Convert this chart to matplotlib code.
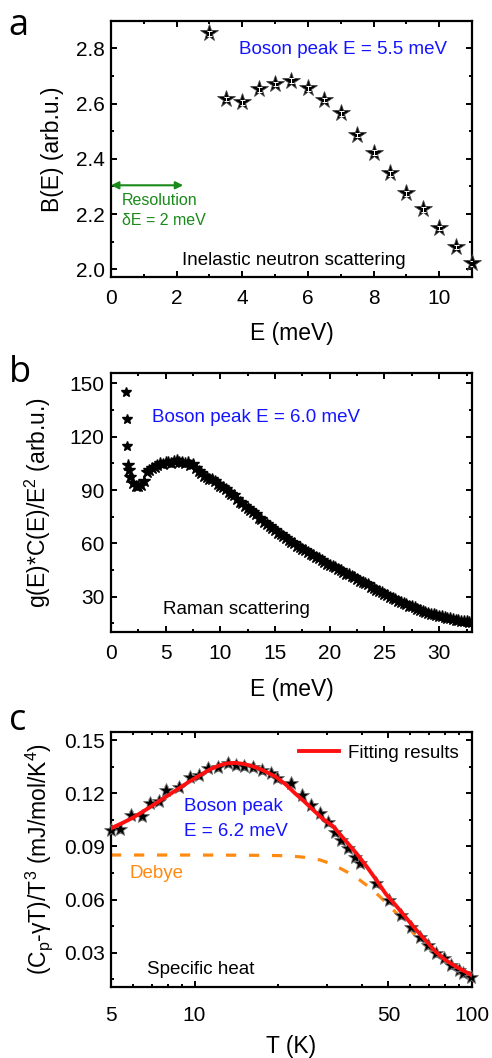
import numpy as np
import matplotlib
matplotlib.use("Agg")
import matplotlib.pyplot as plt
from matplotlib.ticker import MultipleLocator, FixedLocator, NullFormatter, FixedFormatter

plt.rcParams['font.family'] = ['Liberation Sans', 'DejaVu Sans']
plt.rcParams['mathtext.default'] = 'regular'

# =============================
# Data
# =============================
# a) inelastic neutron scattering
ins_E = [3.0, 3.5, 4.0, 4.5, 5.0, 5.5, 6.0, 6.5, 7.0, 7.5, 8.0, 8.5, 9.0, 9.5, 10.0, 10.5, 11.0]
ins_B = [2.854, 2.616, 2.604, 2.651, 2.671, 2.683, 2.655, 2.613, 2.564, 2.486,
         2.422, 2.347, 2.275, 2.217, 2.150, 2.081, 2.021]

# b) Raman scattering
raman_E = [1.34, 1.43, 1.49, 1.55, 1.62,
           1.75, 2.00, 2.25, 2.50, 2.75, 3.00, 3.25, 3.50, 3.75, 4.00, 4.25, 4.50,
           4.75, 5.00, 5.25, 5.50, 5.75, 6.00, 6.25, 6.50, 6.75, 7.00, 7.25, 7.50,
           7.75, 8.00, 8.25, 8.50, 8.75, 9.00, 9.25, 9.50, 9.75, 10.00, 10.25, 10.50,
           10.75, 11.00, 11.25, 11.50, 11.75, 12.00, 12.25, 12.50, 12.75, 13.00, 13.25,
           13.50, 13.75, 14.00, 14.25, 14.50, 14.75, 15.00, 15.25, 15.50, 15.75, 16.00,
           16.25, 16.50, 16.75, 17.00, 17.25, 17.50, 17.75, 18.00, 18.25, 18.50, 18.75,
           19.00, 19.25, 19.50, 19.75, 20.00, 20.25, 20.50, 20.75, 21.00, 21.25, 21.50,
           21.75, 22.00, 22.25, 22.50, 22.75, 23.00, 23.25, 23.50, 23.75, 24.00, 24.25,
           24.50, 24.75, 25.00, 25.25, 25.50, 25.75, 26.00, 26.25, 26.50, 26.75, 27.00,
           27.25, 27.50, 27.75, 28.00, 28.25, 28.50, 28.75, 29.00, 29.25, 29.50, 29.75,
           30.00, 30.25, 30.50, 30.75, 31.00, 31.25, 31.50, 31.75, 32.00, 32.25, 32.50,
           32.75, 33.00]
raman_I = [145, 130, 115, 104, 101,
           97.5, 94, 92.5, 92.5, 93, 95, 100, 101.5, 102.5, 103, 104, 105,
           104.5, 105.5, 106, 105, 106.5, 107, 106, 105.5, 105, 105.5, 104, 104.5,
           102.5, 100.5, 99.5, 98, 97.5, 96, 96, 95, 93.5, 92.5, 91.5, 90.5,
           89, 88, 87, 85, 83.5, 82.5, 81, 80, 79, 77.5, 76.5,
           74.5, 73.5, 72, 71, 70, 68.5, 67.5, 66, 65, 64, 63,
           62, 60.5, 60, 58.5, 58, 57, 56, 55, 54, 53.5, 52.5,
           51.5, 50.5, 49.5, 48.5, 48, 47, 46.5, 45.5, 45, 44, 43,
           42.5, 41.5, 41, 40, 39, 38.5, 37.5, 37, 35.5, 35, 34,
           33, 32.5, 31.5, 31, 30, 29.5, 28.5, 27.5, 27, 26.5, 26,
           25, 24.5, 24, 23, 22.5, 22, 21.5, 21, 20.5, 20, 19.5,
           19, 19, 18.5, 18, 18, 17.5, 17, 17, 16.5, 16.5, 16.5,
           16, 16]

# c) specific heat
cp_T = [5.0, 5.38, 5.9, 6.45, 6.9, 7.45, 7.9, 8.8, 9.6, 10.4, 11.2, 12.2, 13.2, 14.1,
        15.1, 16.3, 17.5, 18.9, 19.9, 22.3, 24.3, 26.4, 28.3, 30.3, 32.0, 33.8, 35.8,
        37.8, 39.6, 45.2, 50.2, 55.5, 60.1, 64.9, 69.3, 74.1, 79.0, 84.2, 89.8, 93.0, 99.0]
cp_val = [0.0992, 0.0996, 0.1077, 0.1071, 0.1143, 0.1156, 0.1218, 0.1233, 0.1290, 0.1300,
          0.1341, 0.1346, 0.1369, 0.1359, 0.1354, 0.1350, 0.1331, 0.1312, 0.1284, 0.1256,
          0.1190, 0.1133, 0.1086, 0.1039, 0.0983, 0.0936, 0.0889, 0.0842, 0.0805, 0.0692,
          0.0597, 0.0513, 0.0447, 0.0390, 0.0343, 0.0297, 0.0268, 0.0231, 0.0202, 0.0184,
          0.0165]

fit_T = [5, 5.5, 6, 6.5, 7, 7.5, 8, 8.6, 9.5, 10.5, 11.4, 12.2, 13.0, 14.0, 14.9, 16.0,
         17.5, 19.6, 21.3, 23.0, 25.0, 27.0, 29.0, 31.5, 34.0, 38.3, 42.0, 45.2, 49.0,
         53.6, 58.0, 63.0, 68.0, 74.0, 80.0, 87.6, 94.0, 100.0]
fit_val = [0.1002, 0.1032, 0.1062, 0.1095, 0.1127, 0.1158, 0.1186, 0.1218, 0.1262, 0.1303,
           0.1335, 0.1355, 0.1368, 0.1371, 0.1366, 0.1355, 0.1332, 0.1293, 0.1250, 0.1200,
           0.1150, 0.1100, 0.1055, 0.1015, 0.0955, 0.0861, 0.0780, 0.0710, 0.0630, 0.0560,
           0.0495, 0.0428, 0.0370, 0.0305, 0.0260, 0.0221, 0.0195, 0.0172]

debye_T = [5, 10, 15, 18, 20, 22.1, 25, 28.4, 31, 33.5, 36.5, 39.4, 43, 46.6, 50.5, 55,
           59, 63, 67.5, 72.2, 77.5, 83.2, 90, 98, 100]
debye_val = [0.0851, 0.0851, 0.0850, 0.0849, 0.0848, 0.0846, 0.0838, 0.0823, 0.0802,
             0.0776, 0.0745, 0.0710, 0.0665, 0.0616, 0.0562, 0.0503, 0.0445, 0.0390,
             0.0345, 0.0306, 0.0272, 0.0240, 0.0206, 0.0174, 0.0170]

# =============================
# Figure
# =============================
fig = plt.figure(figsize=(4.92, 10.58), dpi=100)
ax_a = fig.add_axes([0.2256, 0.7382, 0.7337, 0.2420])
ax_b = fig.add_axes([0.2256, 0.4029, 0.7337, 0.2442])
ax_c = fig.add_axes([0.2256, 0.0674, 0.7337, 0.2410])

tick_fs = 15
label_fs = 16.5
note_fs = 13.5


def style_axes(ax, xpad=9):
    for s in ax.spines.values():
        s.set_linewidth(1.6)
    ax.tick_params(which='both', direction='in', top=True, right=True,
                   labelsize=tick_fs, width=1.4)
    ax.tick_params(which='major', length=4.5)
    ax.tick_params(which='minor', length=2.5)
    ax.tick_params(axis='x', which='major', pad=xpad)
    ax.tick_params(axis='y', which='major', pad=4.5)


# =============================
# a) B(E)
# =============================
ax_a.errorbar(ins_E, ins_B, yerr=0.008, fmt='none', ecolor='white', elinewidth=0.7,
              capsize=1.8, capthick=0.7, zorder=4)
ax_a.plot(ins_E, ins_B, linestyle='none', marker='*', markersize=13,
          markerfacecolor='black', markeredgecolor='#444444', markeredgewidth=0.6,
          zorder=3, clip_on=False)
ax_a.set_xlim(0, 11)
ax_a.set_ylim(1.972, 2.899)
ax_a.xaxis.set_major_locator(MultipleLocator(2))
ax_a.xaxis.set_minor_locator(MultipleLocator(1))
ax_a.yaxis.set_major_locator(MultipleLocator(0.2))
ax_a.yaxis.set_minor_locator(MultipleLocator(0.1))
ax_a.yaxis.set_major_formatter(matplotlib.ticker.FormatStrFormatter('%.1f'))
style_axes(ax_a)
ax_a.set_xlabel('E (meV)', fontsize=label_fs)
ax_a.set_ylabel('B(E) (arb.u.)', fontsize=label_fs)
ax_a.xaxis.set_label_coords(0.5, -0.175)
ax_a.yaxis.set_label_coords(-0.13, 0.5)
ax_a.text(3.9, 2.794, 'Boson peak E = 5.5 meV', color='#1414ff', fontsize=note_fs,
          va='center', ha='left')
ax_a.text(2.15, 2.033, 'Inelastic neutron scattering', color='black', fontsize=note_fs,
          va='center', ha='left')
ax_a.annotate('', xy=(2.2, 2.304), xytext=(0.0, 2.304),
              arrowprops=dict(arrowstyle='<|-|>', color='#1a8a1a', lw=1.5,
                              mutation_scale=11, shrinkA=0, shrinkB=0))
ax_a.text(0.34, 2.248, 'Resolution', color='#1a8a1a', fontsize=11.5, va='center')
ax_a.text(0.34, 2.175, 'δE = 2 meV', color='#1a8a1a', fontsize=11.5, va='center')

# =============================
# b) Raman
# =============================
ax_b.plot(raman_E[:3], raman_I[:3], linestyle='none', marker='*', markersize=7,
          color='black', zorder=3)
ax_b.plot(raman_E[3:], raman_I[3:], linestyle='none', marker='*', markersize=9,
          color='black', zorder=3)
ax_b.set_xlim(0, 33)
ax_b.set_ylim(10.3, 155.6)
ax_b.xaxis.set_major_locator(MultipleLocator(5))
ax_b.xaxis.set_minor_locator(MultipleLocator(2.5))
ax_b.yaxis.set_major_locator(MultipleLocator(30))
ax_b.yaxis.set_minor_locator(MultipleLocator(15))
style_axes(ax_b)
ax_b.set_xlabel('E (meV)', fontsize=label_fs)
ax_b.set_ylabel('g(E)*C(E)/E$^{2}$ (arb.u.)', fontsize=label_fs)
ax_b.xaxis.set_label_coords(0.5, -0.18)
ax_b.yaxis.set_label_coords(-0.16, 0.5)
ax_b.text(3.72, 130.9, 'Boson peak E = 6.0 meV', color='#1414ff', fontsize=note_fs,
          va='center', ha='left')
ax_b.text(4.78, 22.9, 'Raman scattering', color='black', fontsize=note_fs,
          va='center', ha='left')

# =============================
# c) specific heat
# =============================
ax_c.plot(debye_T, debye_val, color='#ff8a12', lw=2.3, linestyle=(0, (3.2, 4.0)),
          zorder=2)
ax_c.errorbar(cp_T, cp_val, yerr=0.0022, fmt='none', ecolor='#8a8a8a', elinewidth=0.8,
              capsize=1.5, capthick=0.8, zorder=2.5)
ax_c.plot(cp_T, cp_val, linestyle='none', marker='*', markersize=10,
          markerfacecolor='black', markeredgecolor='#707070', markeredgewidth=0.6,
          zorder=3, clip_on=False)
ax_c.plot(fit_T, fit_val, color='#ff1010', lw=2.8, zorder=4, label='Fitting results')
ax_c.set_xscale('log')
ax_c.set_xlim(5, 100)
ax_c.set_ylim(0.0108, 0.1547)
ax_c.xaxis.set_major_locator(FixedLocator([5, 10, 50, 100]))
ax_c.xaxis.set_major_formatter(FixedFormatter(['5', '10', '50', '100']))
ax_c.xaxis.set_minor_locator(FixedLocator([6, 7, 8, 9, 20, 30, 40, 60, 70, 80, 90]))
ax_c.xaxis.set_minor_formatter(NullFormatter())
ax_c.yaxis.set_major_locator(MultipleLocator(0.03))
ax_c.yaxis.set_minor_locator(MultipleLocator(0.015))
ax_c.yaxis.set_major_formatter(matplotlib.ticker.FormatStrFormatter('%.2f'))
style_axes(ax_c, xpad=14)
ax_c.set_xlabel('T (K)', fontsize=label_fs)
ax_c.set_ylabel('(C$_{p}$-γT)/T$^{3}$ (mJ/mol/K$^{4}$)', fontsize=label_fs)
ax_c.xaxis.set_label_coords(0.5, -0.19)
ax_c.yaxis.set_label_coords(-0.155, 0.5)
ax_c.text(9.15, 0.1124, 'Boson peak', color='#1414ff', fontsize=note_fs, va='center')
ax_c.text(9.15, 0.0983, 'E = 6.2 meV', color='#1414ff', fontsize=note_fs, va='center')
ax_c.text(5.82, 0.0748, 'Debye', color='#ff8a12', fontsize=note_fs, va='center')
ax_c.text(6.75, 0.0206, 'Specific heat', color='black', fontsize=note_fs, va='center')
ax_c.legend(loc='upper right', frameon=False, fontsize=note_fs, handlelength=2.1,
            handletextpad=0.5, borderaxespad=0.3, bbox_to_anchor=(1.0, 1.0))

# panel letters
for lab, y in [('a', 0.967), ('b', 0.639), ('c', 0.310)]:
    fig.text(0.018, y, lab, fontsize=26, family='Open Sans', va='baseline', ha='left')

fig.savefig('out.png', dpi=100)
